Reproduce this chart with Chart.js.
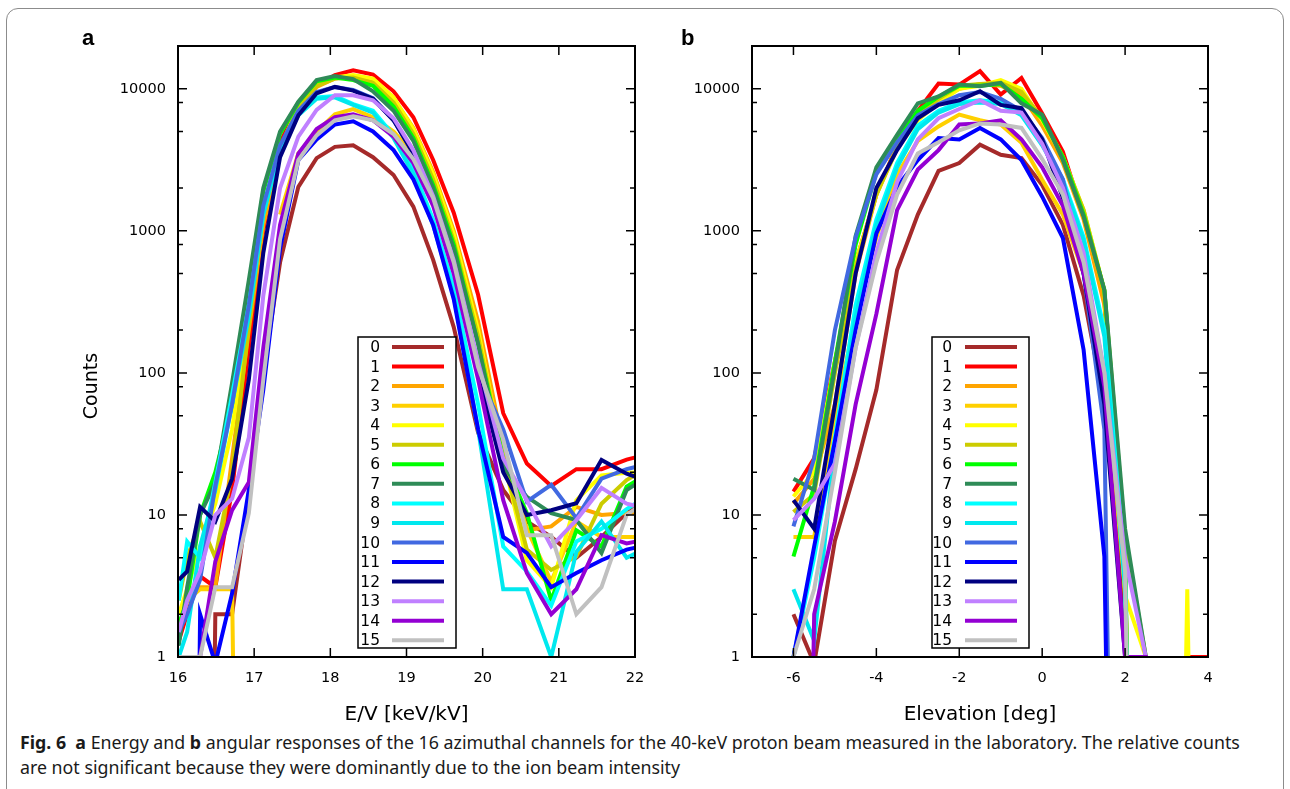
<!DOCTYPE html>
<html>
<head>
<meta charset="utf-8">
<script src="https://cdn.jsdelivr.net/npm/chart.js@4.4.1/dist/chart.umd.min.js"></script>
<style>
  html, body { margin: 0; padding: 0; background: #fff; }
  body { width: 1290px; height: 789px; position: relative; overflow: hidden; font-family: "DejaVu Sans", sans-serif; }
  .frame { position: absolute; left: 6px; top: 8px; width: 1278px; height: 800px; border: 1px solid #8c8c8c; border-radius: 12px; box-sizing: border-box; }
  canvas { position: absolute; top: 0; }
  #energyChart { left: 0; }
  #angleChart { left: 645px; }
  .panel { position: absolute; top: 27px; font: bold 22px "Liberation Sans", Arial, sans-serif; line-height: 22px; }
  .ylab { position: absolute; left: 90px; top: 386px; transform: translate(-50%, -50%) rotate(-90deg); font: 19px "DejaVu Sans", sans-serif; white-space: nowrap; }
  .caption { position: absolute; left: 20px; top: 730px; width: 1260px; font: 17.8px/25px "Noto Sans", sans-serif; color: #1a1a1a; white-space: nowrap; }
</style>
</head>
<body>
<div class="frame"></div>
<canvas id="energyChart" width="645" height="730"></canvas>
<canvas id="angleChart" width="645" height="730"></canvas>
<div class="panel" style="left:82px">a</div>
<div class="panel" style="left:681px">b</div>
<div class="ylab">Counts</div>
<div class="caption"><b>Fig. 6</b>&nbsp; <b>a</b> Energy and <b>b</b> angular responses of the 16 azimuthal channels for the 40-keV proton beam measured in the laboratory. The relative counts<br>are not significant because they were dominantly due to the ion beam intensity</div>

<script>
// zero counts sit far below the log axis so the line drops straight down
const Z = 1e-8;

const channelNames = ["0", "1", "2", "3", "4", "5", "6", "7", "8", "9", "10", "11", "12", "13", "14", "15"];
const channelColors = ["#a52a2a", "#ff0000", "#ffa500", "#ffd000", "#ffff00", "#cccc00", "#00ff00", "#2e8b57",
  "#00ffff", "#00e8ee", "#4169e1", "#0000ff", "#000080", "#c080ff", "#9400d3", "#c0c0c0"];

const countTicks = [1, 10, 100, 1000, 10000];
const energyTicks = [16, 17, 18, 19, 20, 21, 22];
const elevationTicks = [-6, -4, -2, 0, 2, 4];

// a: energy scan, E/V [keV/kV]
const energyKeV = [16.01, 16.12, 16.29, 16.49, 16.71, 16.93, 17.12, 17.34, 17.58, 17.82, 18.06, 18.30, 18.56,
  18.83, 19.09, 19.35, 19.62, 19.94, 20.27, 20.58, 20.90, 21.23, 21.56, 21.89, 22.20];

const eCh0 = [Z, Z, Z, 2, 2, 14, 100, 600, 2040, 3250, 3900, 4000, 3300, 2470, 1480, 625, 210, 38, 15, 9, 7, 5, 7, 10.3, 13];
const eCh1 = [1.3, 2.0, 3.7, 3.1, 15, 150, 1000, 4200, 7500, 10500, 12500, 13500, 12600, 9600, 6300, 3150, 1340, 355, 52, 23, 16, 21, 21, 24.5, 27];
const eCh2 = [1.5, 2.5, 3.1, 3.1, 25, 200, 1100, 3500, 7000, 10300, 11800, 12300, 11500, 8500, 5300, 2600, 1000, 230, 30, 7.8, 8.3, 11.4, 10, 10.3, 10.5];
const eCh3 = [2, 2.5, 3, 3, 3, Z, null, 1300, 3500, 5000, 6600, 7200, 6300, 5000, 3500, 1900, 800, 170, 25, 8, 3.4, 9, 7, 7, 7];
const eCh4 = [2, 3, 6, 12, 40, 250, 1300, 3800, 7500, 10800, 12000, 12500, 11800, 8700, 5200, 2500, 950, 200, 25, 4.8, 3.1, 12.7, 19, 19.8, 20];
const eCh5 = [2.5, 5, 9, 5, 20, 220, 1300, 3800, 7500, 10500, 11800, 12000, 11000, 8000, 4800, 2300, 850, 180, 25, 5.7, 4.1, 5.1, 12, 17.6, 22];
const eCh6 = [1.7, 2.5, 10, 20, 60, 380, 1900, 4800, 8000, 11300, 12000, 11500, 10500, 7500, 4500, 2100, 800, 160, 25, 10.3, 2.5, 7.8, 6, 15.8, 20];
const eCh7 = [1.2, 3.1, 10, 17, 85, 450, 2000, 5000, 8100, 11500, 12300, 11700, 9600, 7000, 4300, 2000, 750, 160, 22, 13.4, 10.3, 9.2, 5.4, 15, 19];
const eCh8 = [2.5, 6.5, 5, 17, 70, 300, 1400, 3800, 6800, 8700, 8900, 7800, 7000, 4700, 2700, 1200, 400, 60, 6, 4, 2.3, 6.5, 8, 11, 14];
const eCh9 = [1, 1.5, 6, 15, 60, 250, 1300, 3700, 6500, 8500, 8700, 7700, 6800, 4500, 2500, 1100, 350, 40, 3, 3, 1, 5.5, 9, 5, 6];
const eCh10 = [1.5, 2, 3.5, 16, 60, 300, 1500, 4000, 7000, 9500, 10300, 9800, 8600, 6000, 3500, 1600, 550, 100, 40, 12.4, 16.3, 9.5, 18, 21, 23];
const eCh11 = [Z, Z, 2.0, 0.9, 2.8, 15, 76, 750, 3150, 4400, 5600, 5900, 5000, 3700, 2300, 1100, 330, 40, 7, 5.4, 3.1, 3.9, 4.8, 5.7, 6.2];
const eCh12 = [3.5, 4.0, 11.4, 9.0, 18, 90, 700, 3300, 6500, 9300, 10300, 9700, 8500, 6000, 3500, 1600, 550, 100, 20, 10, 10.8, 12.1, 24.4, 19.5, 17];
const eCh13 = [1.5, 2.5, 4, 10, 13, 35, 350, 2000, 4600, 7100, 9000, 9000, 8300, 6200, 3700, 1750, 620, 120, 25, 12.7, 6.0, 9.2, 15.5, 12, 11];
const eCh14 = [1, 1, 1, 4.7, 10.8, 17, 150, 1100, 3500, 5200, 6300, 6600, 6000, 4600, 3000, 1500, 500, 90, 12.7, 3.9, 2.0, 3.0, 7.2, 6.3, 6.8];
const eCh15 = [1, 1, 1, 3.1, 3.1, 10.3, 90, 870, 3150, 4700, 6000, 6400, 6000, 4800, 3200, 1700, 600, 110, 34, 7.2, 7.2, 2.0, 3.1, 10, 13];

// b: elevation scan [deg]
const elevationDeg = [-6, -5.5, -5, -4.5, -4, -3.5, -3, -2.5, -2, -1.5, -1, -0.5, 0, 0.5, 1, 1.5, 2, 2.5, 3, 3.5, 4];

const aCh0 = [2.0, 0.9, 6.6, 21, 76, 530, 1300, 2640, 3000, 4040, 3430, 3250, 2100, 1100, 350, 60, 2, Z, Z, Z, Z];
const aCh1 = [14.6, 25, 120, 600, 1800, 4000, 7000, 10900, 10700, 13300, 9100, 11900, 6700, 3600, 1260, 320, 5, Z, Z, 1, 1];
const aCh2 = [12, 18, 60, 500, 1800, 4000, 6500, 8500, 10000, 10800, 10500, 9000, 5500, 3000, 1200, 300, 5, Z, Z, Z, Z];
const aCh3 = [7, 7, 50, 250, 900, 2500, 4300, 5430, 6580, 6000, 5600, 4170, 2290, 1300, 500, 100, 3, Z, Z, Z, Z];
const aCh4 = [13.5, 20, 120, 600, 1800, 3800, 6000, 8000, 10000, 10500, 11500, 10000, 6000, 3300, 1400, 380, 2.7, 1, Z, 3, Z];
const aCh5 = [10.5, 14, 100, 550, 1800, 3800, 6500, 8500, 10500, 10800, 11000, 9500, 6200, 3300, 1400, 380, 7, 1, Z, Z, Z];
const aCh6 = [5.1, 16, 120, 800, 2600, 4500, 7000, 8800, 10500, 10500, 10800, 8500, 6200, 3300, 1300, 380, 6, Z, Z, Z, Z];
const aCh7 = [18, 15, 110, 920, 2800, 4740, 7900, 8830, 10700, 10400, 11000, 7900, 6560, 3150, 1260, 385, 8, 1, Z, Z, Z];
const aCh8 = [1, 5, 35, 300, 1200, 3000, 5500, 7000, 8000, 8300, 8000, 6800, 4200, 2300, 900, 200, 4, Z, Z, Z, Z];
const aCh9 = [3.0, 1.3, 30, 250, 1100, 2800, 5200, 6800, 7800, 8000, 7800, 6500, 4000, 2200, 850, 180, 3, Z, Z, Z, Z];
const aCh10 = [8.3, 25, 200, 900, 2500, 4200, 6500, 7800, 9000, 9500, 8500, 7000, 4500, 2300, 500, 40, Z, Z, Z, Z, Z];
const aCh11 = [1, 6, 33, 200, 960, 2040, 3150, 4500, 4400, 5300, 4400, 3150, 1740, 890, 145, 5.1, Z, Z, Z, Z, Z];
const aCh12 = [12.7, 8, 60, 500, 2000, 3700, 6200, 7700, 8300, 9600, 7700, 7300, 4400, 1700, 500, 60, 1, Z, Z, Z, Z];
const aCh13 = [9.2, 13, 23, 150, 700, 2200, 4400, 6200, 7200, 8300, 7000, 6800, 4100, 2000, 700, 100, 5, 1, Z, Z, Z];
const aCh14 = [Z, 2.0, 9, 60, 260, 1400, 2700, 3700, 5600, 5700, 6000, 4400, 2800, 1500, 500, 80, 1, 1, Z, Z, Z];
const aCh15 = [1, 3, 20, 150, 600, 1800, 3500, 4200, 5100, 5700, 5600, 5300, 3200, 1800, 600, 100, 4, Z, Z, Z, Z];

const energySeries = [eCh0, eCh1, eCh2, eCh3, eCh4, eCh5, eCh6, eCh7, eCh8, eCh9, eCh10, eCh11, eCh12, eCh13, eCh14, eCh15];
const angleSeries = [aCh0, aCh1, aCh2, aCh3, aCh4, aCh5, aCh6, aCh7, aCh8, aCh9, aCh10, aCh11, aCh12, aCh13, aCh14, aCh15];

// gnuplot style box: full frame, ticks pointing inwards on all four sides
const frameTicks = {
  id: "frameTicks",
  afterDatasetsDraw(chart, args, opts) {
    const { ctx, chartArea: a, scales } = chart;
    ctx.save();
    ctx.strokeStyle = "#000";
    ctx.lineWidth = 1.5;
    ctx.beginPath();
    opts.xTicks.forEach((v) => {
      const x = scales.x.getPixelForValue(v);
      ctx.moveTo(x, a.bottom); ctx.lineTo(x, a.bottom - 9);
      ctx.moveTo(x, a.top); ctx.lineTo(x, a.top + 9);
    });
    countTicks.forEach((v) => {
      [1, 2, 5, 8].forEach((m) => {
        const val = v * m;
        if (val >= scales.y.max) return;
        const y = scales.y.getPixelForValue(val);
        const len = m === 1 ? 9 : 5;
        ctx.moveTo(a.left, y); ctx.lineTo(a.left + len, y);
        ctx.moveTo(a.right, y); ctx.lineTo(a.right - len, y);
      });
    });
    ctx.stroke();
    ctx.lineWidth = 2;
    ctx.strokeRect(a.left, a.top, a.right - a.left, a.bottom - a.top);
    ctx.restore();
  },
};

const boxLegend = {
  id: "boxLegend",
  afterDraw(chart, args, o) {
    const ctx = chart.ctx;
    ctx.save();
    ctx.fillStyle = "#fff";
    ctx.fillRect(o.left, o.top, o.width, o.height);
    ctx.strokeStyle = "#000";
    ctx.lineWidth = 1.5;
    ctx.strokeRect(o.left, o.top, o.width, o.height);
    ctx.font = '15.5px "DejaVu Sans"';
    ctx.textAlign = "right";
    ctx.textBaseline = "middle";
    channelNames.forEach((name, i) => {
      const y = o.firstRow + i * o.rowStep;
      ctx.fillStyle = "#000";
      ctx.fillText(name, o.textRight, y + 1);
      ctx.strokeStyle = channelColors[i];
      ctx.lineWidth = 4;
      ctx.beginPath();
      ctx.moveTo(o.lineFrom, y);
      ctx.lineTo(o.lineTo, y);
      ctx.stroke();
    });
    ctx.restore();
  },
};

function buildChart(canvasId, xs, series, cfg) {
  const datasets = series.map((ys, i) => ({
    label: channelNames[i],
    data: xs.map((x, j) => ({ x: x, y: ys[j] })),
    borderColor: channelColors[i],
    borderWidth: 4,
    pointRadius: 0,
    fill: false,
    tension: 0,
    spanGaps: false,
    order: series.length - 1 - i,
  }));

  return new Chart(document.getElementById(canvasId), {
    type: "line",
    data: { datasets },
    options: {
      responsive: false,
      animation: false,
      events: [],
      layout: { padding: cfg.padding },
      plugins: {
        legend: { display: false },
        tooltip: { enabled: false },
        frameTicks: { xTicks: cfg.xTicks },
        boxLegend: cfg.legend,
      },
      scales: {
        x: {
          type: "linear",
          min: cfg.xMin,
          max: cfg.xMax,
          afterBuildTicks: (s) => { s.ticks = cfg.xTicks.map((v) => ({ value: v })); },
          afterFit: (s) => { s.height = 73; s.paddingLeft = 0; s.paddingRight = 0; },
          grid: { display: false, drawTicks: false },
          border: { display: false },
          ticks: { color: "#000", font: { family: "DejaVu Sans", size: 14.5 }, padding: 13, maxRotation: 0, autoSkip: false },
          title: { display: true, text: cfg.xTitle, color: "#000", font: { family: "DejaVu Sans", size: 20 }, padding: { top: 0, bottom: 3 } },
        },
        y: {
          type: "logarithmic",
          min: 1,
          max: 20000,
          afterBuildTicks: (s) => { s.ticks = countTicks.map((v) => ({ value: v })); },
          afterFit: (s) => { s.width = cfg.yWidth; s.paddingTop = 0; s.paddingBottom = 0; },
          grid: { display: false, drawTicks: false },
          border: { display: false },
          ticks: { color: "#000", font: { family: "DejaVu Sans", size: 14.5 }, padding: 12, callback: (v) => String(v) },
        },
      },
    },
    plugins: [frameTicks, boxLegend],
  });
}

buildChart("energyChart", energyKeV, energySeries, {
  xMin: 16, xMax: 22, xTicks: energyTicks, xTitle: "E/V [keV/kV]",
  padding: { left: 76, right: 10, top: 46, bottom: 0 }, yWidth: 102,
  legend: { left: 358, top: 337, width: 98, height: 311, firstRow: 347, rowStep: 19.55, textRight: 380, lineFrom: 392, lineTo: 444 },
});

buildChart("angleChart", elevationDeg, angleSeries, {
  xMin: -7, xMax: 4, xTicks: elevationTicks, xTitle: "Elevation [deg]",
  padding: { left: 0, right: 82, top: 46, bottom: 0 }, yWidth: 107,
  legend: { left: 287, top: 337, width: 97, height: 311, firstRow: 347, rowStep: 19.55, textRight: 307, lineFrom: 320, lineTo: 372 },
});
</script>
</body>
</html>
